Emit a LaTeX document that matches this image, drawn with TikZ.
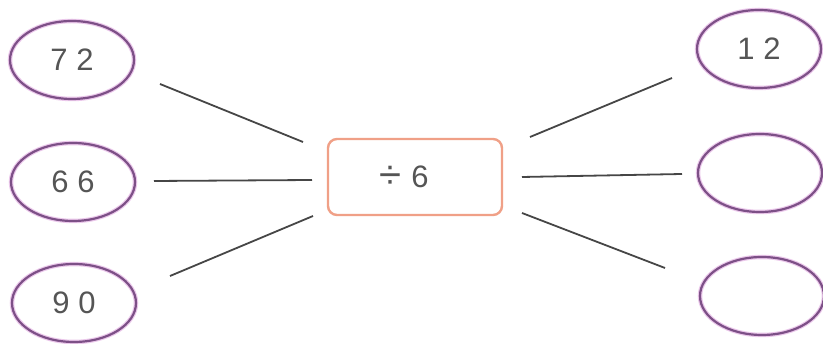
\documentclass[tikz,border=0pt]{standalone}
\usepackage{fontspec}
\setmainfont{Liberation Sans}
\usetikzlibrary{shapes.geometric}
\definecolor{ovalc}{RGB}{125,80,135}
\definecolor{halo}{RGB}{235,200,235}
\definecolor{boxc}{RGB}{240,160,135}
\definecolor{txt}{RGB}{85,85,85}
\definecolor{linec}{RGB}{70,70,70}
\tikzset{
  oval/.style={ellipse, draw=ovalc, line width=2.2pt, minimum width=124pt, minimum height=78pt, inner sep=0pt,
    font=\fontsize{31}{31}\selectfont, text=txt,
    preaction={draw=halo, line width=4.5pt}},
  opbox/.style={rectangle, rounded corners=9pt, draw=boxc, line width=2.4pt, minimum width=174pt, minimum height=76pt, inner sep=0pt,
    font=\fontsize{31}{31}\selectfont, text=txt},
  link/.style={draw=linec, line width=1.8pt}
}
\begin{document}
\begin{tikzpicture}[x=1pt,y=-1pt]
\useasboundingbox (0,0) rectangle (823,344);
\fill[white] (0,0) rectangle (823,344);
\node[oval] (a) at (72,60) {7 2};
\node[oval] (b) at (73,182) {6 6};
\node[oval] (c) at (74,303) {9 0};
\node[oval] (d) at (759,49) {1 2};
\node[oval] (e) at (760,173) {};
\node[oval] (f) at (762,296) {};
\node[opbox] (op) at (415,177) {};
\node[font=\fontsize{31}{31}\selectfont, text=txt, inner sep=0pt] (optext) at (404,177) {{\fontsize{40}{40}\selectfont\raisebox{-1pt}{÷}}\hspace{10pt}6};
\coordinate (a1) at (160,84);  \coordinate (a2) at (303,142);
\coordinate (b1) at (154,181); \coordinate (b2) at (312,180);
\coordinate (c1) at (170,276); \coordinate (c2) at (313,216);
\coordinate (d1) at (530,137); \coordinate (d2) at (672,78);
\coordinate (e1) at (522,177); \coordinate (e2) at (682,174);
\coordinate (f1) at (522,213); \coordinate (f2) at (665,268);
\draw[link] (a1) -- (a2);
\draw[link] (b1) -- (b2);
\draw[link] (c1) -- (c2);
\draw[link] (d1) -- (d2);
\draw[link] (e1) -- (e2);
\draw[link] (f1) -- (f2);
\end{tikzpicture}
\end{document}
